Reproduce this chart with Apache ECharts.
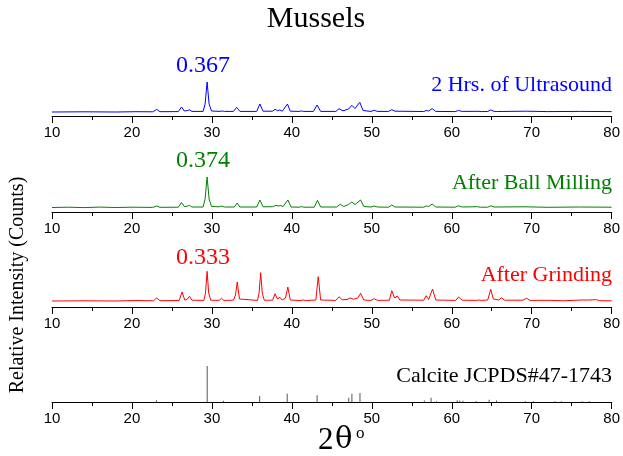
<!DOCTYPE html>
<html>
<head>
<meta charset="utf-8">
<script src="https://cdn.jsdelivr.net/npm/echarts@6/dist/echarts.min.js"></script>
<style>html,body{margin:0;padding:0;background:#fff}#c{width:623px;height:456px}</style>
</head>
<body>
<div id="c"></div>
<script>
// ---- data (2theta, relative intensity) ----
var xTicks = [10, 20, 30, 40, 50, 60, 70, 80];
var panelNames = ['2 Hrs. of Ultrasound', 'After Ball Milling', 'After Grinding', 'Calcite JCPDS#47-1743'];
var peakLabels = ['0.367', '0.374', '0.333'];
var ultrasound = [[10,4],[14,4.2],[18,4],[20.5,4.3],[22.6,4.2],[23.1,6.6],[23.5,4.3],[25.8,4.4],[26.2,9],[26.55,5],[26.9,5.4],[27.2,6.2],[27.5,4.6],[28.9,4.6],[29.15,12],[29.4,34],[29.65,12],[29.95,5],[31.0,4.6],[31.3,5.0],[31.6,4.6],[32.7,4.6],[33.1,8.7],[33.5,4.6],[35.6,4.6],[36.0,12],[36.4,4.8],[37.6,4.8],[37.9,6.7],[38.2,5.4],[38.5,6],[38.8,4.8],[39.45,12],[39.8,4.8],[40.9,4.6],[41.2,5],[41.5,4.6],[42.7,4.6],[43.15,11],[43.6,4.6],[45.5,4.6],[45.9,7.3],[46.4,5.2],[47.1,7],[47.5,10.7],[47.9,7.5],[48.5,13.7],[48.9,5.5],[49.9,4.6],[50.3,5.7],[50.7,4.6],[52.1,4.6],[52.5,6.3],[52.9,4.8],[56.5,4.5],[56.8,5.5],[57.1,5],[57.55,7.4],[58,4.6],[60.4,4.4],[60.85,5.5],[61.3,4.6],[63.3,4.7],[63.7,4.4],[64.5,4.5],[64.87,6],[65.3,4.6],[65.7,4.5],[69.3,4.8],[72,4.4],[76,4.6],[80,4.4]];
var ballMilling = [[10,4.5],[12,4.8],[14,4.4],[16,4.9],[18,4.5],[20,4.8],[22.6,4.6],[23.1,6],[23.5,4.7],[25.8,4.8],[26.2,9.5],[26.55,5.5],[26.9,5.8],[27.2,6.7],[27.5,5],[28.9,5],[29.15,13],[29.4,35],[29.65,13],[29.95,5.5],[30.9,5.2],[31.2,6],[31.6,5],[32.8,5],[33.17,9],[33.5,5],[35.6,5],[36.0,12],[36.4,5.2],[37.6,5.3],[38.0,6.7],[38.3,6],[38.6,6.5],[38.9,5.4],[39.5,12],[39.9,5],[40.9,4.8],[41.2,5.4],[41.5,4.8],[42.8,4.8],[43.2,11.7],[43.6,5],[45.6,5],[46.05,7.7],[46.5,5.5],[47.1,7.5],[47.5,10],[47.9,7.5],[48.6,12],[49.0,5.5],[49.9,5],[50.3,6],[50.7,5],[52.1,4.8],[52.5,7],[52.9,5],[56.5,4.8],[56.8,6],[57.1,5.5],[57.55,8],[58,5],[60.4,4.8],[60.85,6.2],[61.3,5],[63.2,5.3],[63.6,4.8],[64.5,4.8],[64.9,6.2],[65.3,5],[69.3,5.2],[72,4.7],[76,5],[80,4.8]];
var grinding = [[10,6],[14,6.2],[18,6],[20.5,6.5],[22.7,6.2],[23.1,9],[23.5,6.3],[25.9,6.5],[26.27,15],[26.6,7],[26.9,7.5],[27.2,10.7],[27.5,6.8],[29.0,6.6],[29.2,14],[29.4,35.7],[29.6,14],[29.85,6.8],[30.9,6.6],[31.2,8.7],[31.5,6.6],[32.7,6.8],[32.95,12],[33.17,25],[33.45,8],[33.7,6.8],[35.7,6.6],[35.9,14],[36.1,34.3],[36.3,14],[36.55,6.8],[37.6,6.8],[37.9,13.3],[38.2,8],[38.5,9.7],[38.8,7],[39.2,9],[39.5,20],[39.8,7],[41.0,6.5],[41.4,7],[41.8,6.5],[43.0,7],[43.3,30.3],[43.6,7],[45.5,6.6],[45.9,10.3],[46.3,7.2],[46.9,7.5],[47.3,9],[47.7,7.8],[48.25,9],[48.6,13.7],[49.0,7],[49.9,6.6],[50.3,8.3],[50.7,6.6],[52.2,6.8],[52.5,16.3],[52.85,9],[53.2,11],[53.5,7],[56.5,6.8],[56.8,11.3],[57.1,7.5],[57.6,18],[58.0,7],[60.5,6.6],[60.85,10],[61.3,6.8],[63.1,6.6],[63.4,7],[63.7,6.6],[64.5,7],[64.87,17.7],[65.2,8],[65.9,7],[66.2,9.3],[66.6,6.8],[68.9,6.8],[69.35,8.7],[69.8,6.6],[72.2,6.7],[74,6.2],[76.2,7],[77.0,7],[78.1,7.3],[78.5,6.3],[80,6.2]];
var calcite = [[23.06,1.7],[29.41,36],[31.44,1.2],[35.97,6],[39.42,8.3],[43.16,6.7],[47.12,4.3],[47.51,8.3],[48.52,9],[56.57,1.5],[57.41,4.3],[58.1,0.8],[60.68,1.8],[61.0,1.5],[61.4,1.3],[63.06,1],[64.68,2.3],[65.6,1.5],[69.2,0.8],[70.2,0.8],[72.9,0.7],[73.7,0.7],[76.3,0.8],[77.2,0.8]];

var colors = ['#0000ff', '#008000', '#ff0000', '#000000'];
var axisY = [116, 212, 307, 402];
var gh = 60;

var chart = echarts.init(document.getElementById('c'), null, {renderer: 'canvas'});
var grids = [], xAxes = [], yAxes = [], series = [];
for (var i = 0; i < 4; i++) {
  grids.push({left: 52, right: 11, top: axisY[i] - gh, height: gh});
  xAxes.push({
    type: 'value', gridIndex: i, min: 10, max: 80, interval: 10,
    axisLine: {show: true, onZero: false, lineStyle: {color: '#000', width: 1}},
    axisTick: {show: true, inside: false, length: 7, lineStyle: {color: '#000', width: 1}},
    minorTick: {show: true, splitNumber: 2, length: 4, lineStyle: {color: '#000', width: 1}},
    splitLine: {show: false},
    axisLabel: {color: '#000', fontFamily: 'Liberation Sans, Arial', fontSize: 15, margin: 9,
      showMinLabel: true, showMaxLabel: true}
  });
  yAxes.push({type: 'value', gridIndex: i, min: 0, max: gh, show: false});
}
var lineData = [ultrasound, ballMilling, grinding];
for (var j = 0; j < 3; j++) {
  series.push({type: 'line', xAxisIndex: j, yAxisIndex: j, data: lineData[j], showSymbol: false,
    lineStyle: {color: colors[j], width: 1}, animation: false});
}
series.push({type: 'bar', xAxisIndex: 3, yAxisIndex: 3, data: calcite, barWidth: 1,
  itemStyle: {color: '#555'}, animation: false});

var serif = 'Liberation Serif, Times New Roman, serif';
var graphics = [];
var valY = [68, 163, 260];
for (var k = 0; k < 3; k++) {
  graphics.push({type: 'text', left: 176, top: valY[k] - 14,
    style: {text: peakLabels[k], fill: colors[k], font: '24px ' + serif}});
}
var nameY = [87, 185, 277, 378];
for (var m = 0; m < 4; m++) {
  graphics.push({type: 'text', right: 11, top: nameY[m] - 13,
    style: {text: panelNames[m], fill: colors[m], font: '22px ' + serif}});
}
graphics.push({type: 'text', x: 18, y: 285, rotation: Math.PI / 2,
  style: {text: 'Relative Intensity (Counts)', fill: '#000', font: '20px ' + serif,
    align: 'center', verticalAlign: 'middle'}});
graphics.push({type: 'text', x: 318, y: 456,
  style: {text: '2', fill: '#000', font: '31px ' + serif, verticalAlign: 'bottom'}});
graphics.push({type: 'text', x: 335, y: 455,
  style: {text: 'θ', fill: '#000', font: '29px DejaVu Serif, serif', verticalAlign: 'bottom'}});
graphics.push({type: 'text', x: 356, y: 425,
  style: {text: 'o', fill: '#000', font: '17px ' + serif}});
graphics.push({type: 'text', x: 316, y: 4,
  style: {text: 'Mussels', fill: '#000', font: '30px ' + serif, align: 'center'}});

chart.setOption({
  animation: false,
  grid: grids, xAxis: xAxes, yAxis: yAxes, series: series, graphic: graphics
});
</script>
</body>
</html>
